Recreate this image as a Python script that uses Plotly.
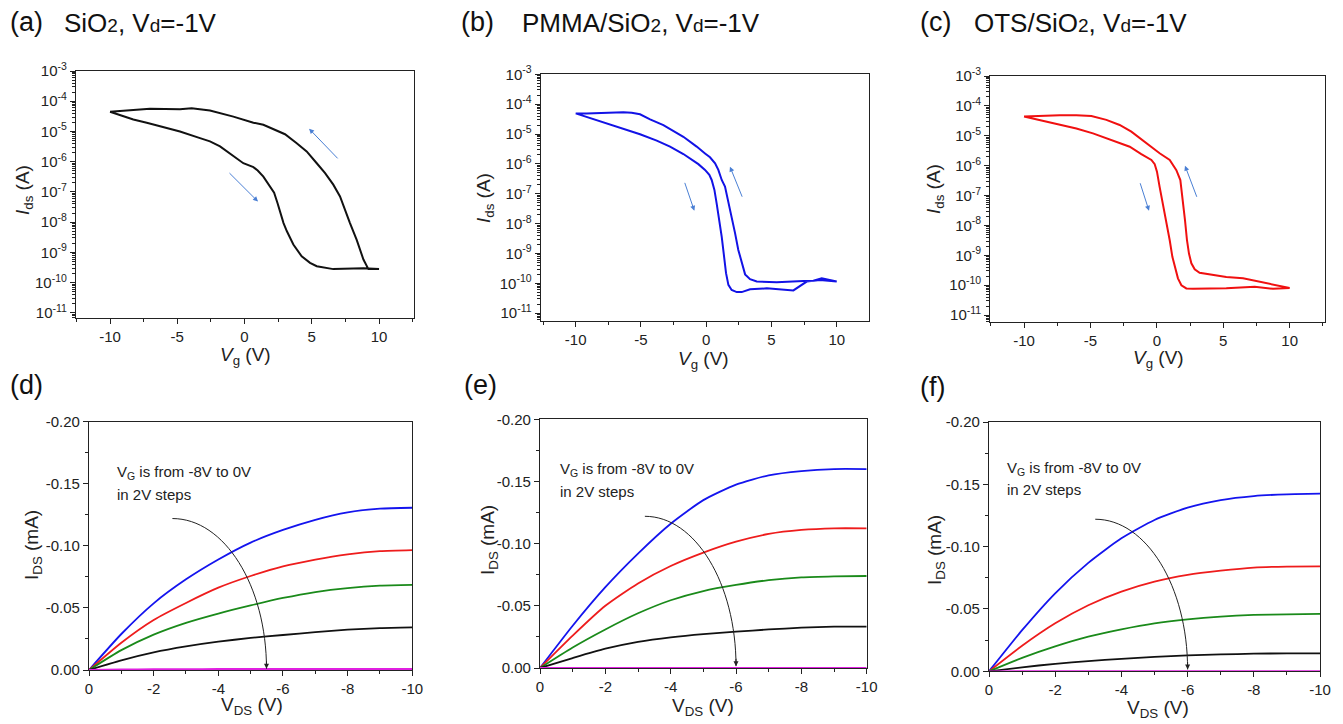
import math
import plotly.graph_objects as go

# page body has an 8px default margin, so the figure is drawn 8px smaller and coordinates shifted
OFF = 8
W, H = 1343 - OFF, 724 - OFF

# ---------------- data: transfer curves (Vg in V, Ids in A) ----------------
a_vg_fwd = [-10, -8.27, -7.27, -5.79, -4.80, -3.31, -2.57, -1.82, -1.08, -0.59, -0.09, 0.66, 0.98, 1.40,
            1.90, 2.20, 2.45, 2.65, 2.90, 3.15, 3.63, 4.25, 4.87, 5.37, 6.60, 8.84, 10]
a_id_fwd = [4.47e-5, 2.5e-5, 1.95e-5, 1.29e-5, 1.0e-5, 6.0e-6, 4.7e-6, 3.2e-6, 1.9e-6, 1.32e-6, 8.9e-7,
            6.6e-7, 5.1e-7, 3.2e-7, 1.51e-7, 9.5e-8, 4.3e-8, 2.0e-8, 9.3e-9, 5.0e-9, 1.82e-9, 7.4e-10,
            4.5e-10, 3.5e-10, 2.8e-10, 3.0e-10, 2.8e-10]
a_vg_rev = [10, 9.21, 8.84, 8.34, 7.84, 7.10, 6.60, 5.99, 5.37, 4.62, 3.88, 3.01, 1.40, 0.66, -0.83,
            -2.57, -3.93, -4.80, -7.03, -8.76, -10]
a_id_rev = [2.8e-10, 2.8e-10, 5.8e-10, 2.6e-9, 9.3e-9, 7.1e-8, 1.74e-7, 4.2e-7, 8.9e-7, 2.19e-6, 4.1e-6,
            8.1e-6, 1.66e-5, 1.95e-5, 3.1e-5, 4.9e-5, 5.9e-5, 5.4e-5, 5.6e-5, 4.8e-5, 4.47e-5]

b_vg_fwd = [-10, -8.90, -7.62, -6.35, -5.07, -3.79, -2.77, -1.75, -1.24, -0.60, -0.09, 0.24, 0.42, 0.63,
            0.80, 1.01, 1.19, 1.37, 1.52, 1.70, 1.95, 2.34, 2.72, 3.36, 4.64, 6.68, 7.06, 7.70, 8.72, 10]
b_id_fwd = [4.9e-5, 3.4e-5, 2.3e-5, 1.51e-5, 9.8e-6, 6.0e-6, 3.8e-6, 2.14e-6, 1.55e-6, 9.8e-7, 6.3e-7,
            4.3e-7, 2.9e-7, 1.35e-7, 4.8e-8, 1.32e-8, 3.6e-9, 7.9e-10, 2.2e-10, 8.9e-11, 6.0e-11, 5.1e-11,
            5.1e-11, 6.3e-11, 6.8e-11, 5.8e-11, 7.4e-11, 1.15e-10, 1.29e-10, 1.15e-10]
b_vg_rev = [10, 8.85, 8.21, 7.45, 5.40, 3.87, 3.36, 2.98, 2.72, 2.46, 2.21, 1.95, 1.70, 1.44, 1.19, 0.93,
            0.68, 0.29, -0.09, -0.73, -1.75, -3.28, -4.30, -5.07, -5.71, -6.35, -9.16, -10]
b_id_rev = [1.15e-10, 1.48e-10, 1.23e-10, 1.2e-10, 1.1e-10, 1.15e-10, 1.38e-10, 2.0e-10, 4.7e-10, 1.32e-9,
            4.8e-9, 1.7e-8, 6.2e-8, 1.74e-7, 2.9e-7, 6.3e-7, 1.05e-6, 1.66e-6, 2.24e-6, 3.8e-6, 8.1e-6,
            2.0e-5, 3.1e-5, 4.6e-5, 5.2e-5, 5.4e-5, 4.9e-5, 4.9e-5]

c_vg_fwd = [-10, -8.57, -7.31, -6.06, -4.81, -3.55, -2.04, -1.17, -0.41, -0.16, 0.01, 0.21, 0.41, 0.59,
            0.77, 0.97, 1.17, 1.34, 1.59, 1.85, 2.22, 2.72, 5.23, 7.37, 8.75, 10]
c_id_fwd = [4.4e-5, 3.2e-5, 2.4e-5, 1.74e-5, 1.2e-5, 7.6e-6, 4.3e-6, 2.45e-6, 1.55e-6, 1.12e-6, 6.3e-7,
            1.95e-7, 7.1e-8, 2.5e-8, 9.1e-9, 3.2e-9, 8.9e-10, 4.2e-10, 1.7e-10, 1.0e-10, 7.8e-11, 7.6e-11,
            7.9e-11, 8.9e-11, 7.6e-11, 8.1e-11]
c_vg_rev = [10, 9.0, 7.74, 6.49, 5.23, 3.98, 3.22, 2.85, 2.60, 2.42, 2.27, 2.12, 1.97, 1.77, 1.47, 0.97,
            0.21, -0.79, -1.92, -2.80, -3.80, -4.93, -6.06, -7.31, -8.57, -10]
c_id_rev = [8.1e-11, 1.0e-10, 1.29e-10, 1.7e-10, 1.9e-10, 2.24e-10, 2.6e-10, 3.4e-10, 5.4e-10, 1.15e-9,
            3.2e-9, 1.51e-8, 7.1e-8, 3.3e-7, 7.1e-7, 1.55e-6, 2.6e-6, 5.6e-6, 1.38e-5, 2.3e-5, 3.4e-5,
            4.6e-5, 4.9e-5, 4.9e-5, 4.7e-5, 4.4e-5]

# sweep-direction arrows: (tail Vg, tail I, head Vg, head I)
a_arrows = [(7.03, 1.15e-6, 4.80, 1.23e-5), (-1.23, 4.7e-7, 1.0, 4.8e-8)]
b_arrows = [(2.80, 7.1e-8, 1.82, 8.1e-7), (-1.68, 2.6e-7, -0.91, 2.7e-8)]
c_arrows = [(3.05, 8.1e-8, 2.12, 1.0e-6), (-1.29, 2.9e-7, -0.59, 3.1e-8)]

# ---------------- data: output curves (Vds in V, Ids in mA) ----------------
vds = [0, -1, -2, -3, -4, -5, -6, -7, -8, -9, -10]
d_curves = {
    "#1414ee": [0, -0.0290, -0.0537, -0.0730, -0.0890, -0.1026, -0.1128, -0.1210, -0.1270, -0.1300, -0.1307],
    "#ee1c1c": [0, -0.0220, -0.0403, -0.0540, -0.0663, -0.0757, -0.0835, -0.0890, -0.0932, -0.0958, -0.0966],
    "#1a8a1a": [0, -0.0160, -0.0285, -0.0380, -0.0455, -0.0520, -0.0580, -0.0628, -0.0660, -0.0679, -0.0685],
    "#111111": [0, -0.0078, -0.0142, -0.0190, -0.0228, -0.0258, -0.0282, -0.0305, -0.0325, -0.0338, -0.0344],
    "#e020e0": [0, -0.0004, -0.0006, -0.0007, -0.0008, -0.0008, -0.0008, -0.0008, -0.0008, -0.0008, -0.0008],
}
e_curves = {
    "#1414ee": [0, -0.0340, -0.0650, -0.0920, -0.1160, -0.1350, -0.1475, -0.1550, -0.1584, -0.1600, -0.1600],
    "#ee1c1c": [0, -0.0260, -0.0500, -0.0680, -0.0820, -0.0928, -0.1016, -0.1078, -0.1110, -0.1123, -0.1123],
    "#1a8a1a": [0, -0.0165, -0.0310, -0.0440, -0.0545, -0.0619, -0.0668, -0.0706, -0.0729, -0.0737, -0.0740],
    "#111111": [0, -0.0080, -0.0155, -0.0210, -0.0247, -0.0273, -0.0292, -0.0310, -0.0324, -0.0332, -0.0332],
    "#e020e0": [0, -0.0001, -0.0001, -0.0001, -0.0001, -0.0001, -0.0001, -0.0001, -0.0001, -0.0001, -0.0001],
}
f_curves = {
    "#1414ee": [0, -0.0330, -0.0626, -0.0870, -0.1067, -0.1214, -0.1313, -0.1374, -0.1406, -0.1420, -0.1425],
    "#ee1c1c": [0, -0.0205, -0.0385, -0.0530, -0.0639, -0.0719, -0.0773, -0.0807, -0.0832, -0.0840, -0.0842],
    "#1a8a1a": [0, -0.0108, -0.0200, -0.0278, -0.0337, -0.0385, -0.0417, -0.0439, -0.0452, -0.0457, -0.0460],
    "#111111": [0, -0.0032, -0.0060, -0.0082, -0.0100, -0.0116, -0.0127, -0.0135, -0.0141, -0.0144, -0.0144],
    "#e020e0": [0, -0.0001, -0.0001, -0.0001, -0.0001, -0.0001, -0.0001, -0.0001, -0.0001, -0.0001, -0.0001],
}
# curved "Vg" arrow: start (Vds, I) and end (Vds, I)
d_gate_arrow = (-2.58, -0.122, -5.49, -0.001)
e_gate_arrow = (-3.21, -0.122, -6.0, -0.0015)
f_gate_arrow = (-3.21, -0.122, -6.0, -0.0015)
# note text anchor (Vds, I line1, I line2)
d_note = (-0.80, -0.159, -0.141)
e_note = (-0.56, -0.160, -0.142)
f_note = (-0.47, -0.163, -0.1455)

panel_letters = ["(a)", "(b)", "(c)", "(d)", "(e)", "(f)"]
small = "<span style='font-size:19px'>%s</span>"
top_titles = ["SiO" + small % "2" + ", V" + small % "d" + "=-1V",
              "PMMA/SiO" + small % "2" + ", V" + small % "d" + "=-1V",
              "OTS/SiO" + small % "2" + ", V" + small % "d" + "=-1V"]
log_major = [1e-11, 1e-10, 1e-9, 1e-8, 1e-7, 1e-6, 1e-5, 1e-4, 1e-3]
log_labels = ["10<sup>%d</sup>" % e for e in range(-11, -2)]
vg_ticks = [-10, -5, 0, 5, 10]
vds_ticks = [0, -2, -4, -6, -8, -10]
ids_ticks = [0, -0.05, -0.10, -0.15, -0.20]
ids_labels = ["0.00", "-0.05", "-0.10", "-0.15", "-0.20"]

# ---------------- layout geometry (pixels in the 1343x724 window) ----------------
FONT = "Liberation Sans, Arial, sans-serif"
def fx(x): return (x - OFF) / W
def fy(y): return 1 - (y - OFF) / H

boxes = [  # left, right, top, bottom in px
    (76, 414, 71, 318), (540.7, 868.7, 74.3, 321), (990.3, 1324.7, 76, 322.3),
    (89, 412.3, 421.7, 670), (540, 866.7, 419.3, 668), (989, 1320, 422, 671.3),
]
xranges = [(-12.53, 12.6), (-12.68, 12.45), (-12.54, 12.64), (0, -10), (0, -10), (0, -10)]
yranges = [(-11.17, -3), (-11.26, -3), (-11.24, -3), (0, -0.2), (0, -0.2), (0, -0.2)]

fig = go.Figure()
minor_log = [k * 10 ** e for e in range(-12, -3) for k in range(2, 10)]

ax_common = dict(showline=True, linecolor="#222", linewidth=1.2, mirror=True, showgrid=False,
                 zeroline=False, ticks="outside", ticklen=5, tickwidth=1, tickcolor="#222",
                 automargin=False, tickfont=dict(family=FONT, size=15, color="#222"))
layout = dict(width=W, height=H, margin=dict(l=0, r=0, t=0, b=0, pad=0), paper_bgcolor="white",
              plot_bgcolor="white", showlegend=False, font=dict(family=FONT, color="#222"))

for i, (l, r, t, b) in enumerate(boxes):
    n = "" if i == 0 else str(i + 1)
    xa = dict(ax_common, domain=[fx(l), fx(r)], range=list(xranges[i]), anchor="y" + n)
    ya = dict(ax_common, domain=[fy(b), fy(t)], range=list(yranges[i]), anchor="x" + n)
    if i < 3:
        xa.update(tickmode="array", tickvals=vg_ticks, ticktext=[str(v) for v in vg_ticks],
                  minor=dict(tickmode="array", tickvals=[-12.5, -7.5, -2.5, 2.5, 7.5, 12.5],
                             ticks="outside", ticklen=3, tickcolor="#222"))
        ya.update(type="log", tickmode="array", tickvals=log_major, ticktext=log_labels,
                  minor=dict(tickmode="array", tickvals=minor_log, ticks="outside", ticklen=3,
                             tickcolor="#222"))
    else:
        xa.update(tickmode="array", tickvals=vds_ticks, ticktext=[str(v) for v in vds_ticks],
                  minor=dict(tickmode="array", tickvals=[-1, -3, -5, -7, -9], ticks="outside",
                             ticklen=3, tickcolor="#222"))
        ya.update(tickmode="array", tickvals=ids_ticks, ticktext=ids_labels,
                  minor=dict(tickmode="array", tickvals=[-0.025, -0.075, -0.125, -0.175],
                             ticks="outside", ticklen=3, tickcolor="#222"))
    layout["xaxis" + n] = xa
    layout["yaxis" + n] = ya

# ---------------- traces ----------------
transfer = [(a_vg_fwd, a_id_fwd, a_vg_rev, a_id_rev, "#111111"),
            (b_vg_fwd, b_id_fwd, b_vg_rev, b_id_rev, "#1212e6"),
            (c_vg_fwd, c_id_fwd, c_vg_rev, c_id_rev, "#f01010")]
for i, (xf, yf, xr, yr, col) in enumerate(transfer):
    n = "" if i == 0 else str(i + 1)
    fig.add_trace(go.Scatter(x=xf + xr, y=yf + yr, mode="lines", line=dict(color=col, width=2),
                             xaxis="x" + n, yaxis="y" + n))

for i, curves in enumerate([d_curves, e_curves, f_curves]):
    n = str(i + 4)
    for col, vals in curves.items():
        fig.add_trace(go.Scatter(x=vds, y=vals, mode="lines",
                                 line=dict(color=col, width=1.8, shape="spline", smoothing=0.6),
                                 xaxis="x" + n, yaxis="y" + n))

# ---------------- annotations ----------------
ann = []
shapes = []
label_pos = [(8, 22), (459, 22), (918, 22), (8, 385), (462, 385), (918, 387)]
for i, (lx, ly) in enumerate(label_pos):
    ann.append(dict(text=panel_letters[i], x=fx(lx), y=fy(ly), xref="paper", yref="paper",
                    xanchor="left", yanchor="middle", showarrow=False,
                    font=dict(family=FONT, size=27, color="#111")))
title_pos = [(62, 23), (520, 23), (972, 23)]
for i, (tx, ty) in enumerate(title_pos):
    ann.append(dict(text=top_titles[i], x=fx(tx), y=fy(ty), xref="paper", yref="paper",
                    xanchor="left", yanchor="middle", showarrow=False,
                    font=dict(family=FONT, size=26, color="#111")))

# axis titles
ytitle_top = "<i>I</i><sub>ds</sub> (A)"
xtitle_top = "<i>V</i><sub>g</sub> (V)"
ytitle_bot = "I<sub>DS</sub> (mA)"
xtitle_bot = "V<sub>DS</sub> (V)"
def title_ann(text, x, y, angle=0):
    return dict(text=text, x=fx(x), y=fy(y), xref="paper", yref="paper", textangle=angle,
                xanchor="center", yanchor="middle", showarrow=False,
                font=dict(family=FONT, size=19, color="#222"))
for (x, y) in [(24, 190), (485, 198), (935, 189)]:
    ann.append(title_ann(ytitle_top, x, y, -90))
for (x, y) in [(245, 356), (703, 360), (1158, 359)]:
    ann.append(title_ann(xtitle_top, x, y))
for (x, y) in [(33, 545), (489, 540), (936, 550)]:
    ann.append(title_ann(ytitle_bot, x, y, -90))
for (x, y) in [(252, 706), (703, 707), (1158, 709)]:
    ann.append(title_ann(xtitle_bot, x, y))

# sweep arrows on transfer plots
for i, arrows in enumerate([a_arrows, b_arrows, c_arrows]):
    n = "" if i == 0 else str(i + 1)
    for (tx, ti, hx, hi) in arrows:
        ann.append(dict(x=hx, y=math.log10(hi), ax=tx, ay=math.log10(ti), xref="x" + n, yref="y" + n,
                        axref="x" + n, ayref="y" + n, text="", showarrow=True, arrowhead=2,
                        arrowsize=1.0, arrowwidth=1, arrowcolor="#4a7fd4"))

# notes and curved arrows on output plots
for i, (note, ga) in enumerate([(d_note, d_gate_arrow), (e_note, e_gate_arrow), (f_note, f_gate_arrow)]):
    n = str(i + 4)
    nx, ny1, ny2 = note
    ann.append(dict(text="V<sub>G</sub> is from -8V to 0V", x=nx, y=ny1, xref="x" + n, yref="y" + n,
                    xanchor="left", yanchor="middle", showarrow=False,
                    font=dict(family=FONT, size=15, color="#222")))
    ann.append(dict(text="in 2V steps", x=nx, y=ny2, xref="x" + n, yref="y" + n,
                    xanchor="left", yanchor="middle", showarrow=False,
                    font=dict(family=FONT, size=15, color="#222")))
    sx, sy, ex, ey = ga
    k = 0.5523
    c1x, c1y = sx + k * (ex - sx), sy
    c2x, c2y = ex, ey + k * (sy - ey)
    path = "M %g,%g C %g,%g %g,%g %g,%g" % (sx, sy, c1x, c1y, c2x, c2y, ex, ey)
    shapes.append(dict(type="path", path=path, xref="x" + n, yref="y" + n,
                       line=dict(color="#222", width=1)))
    ann.append(dict(x=ex, y=ey, ax=0, ay=-9, xref="x" + n, yref="y" + n, text="", showarrow=True,
                    arrowhead=2, arrowsize=1, arrowwidth=1, arrowcolor="#222"))

layout["annotations"] = ann
layout["shapes"] = shapes
fig.update_layout(**layout)
fig.write_html("out.html")
